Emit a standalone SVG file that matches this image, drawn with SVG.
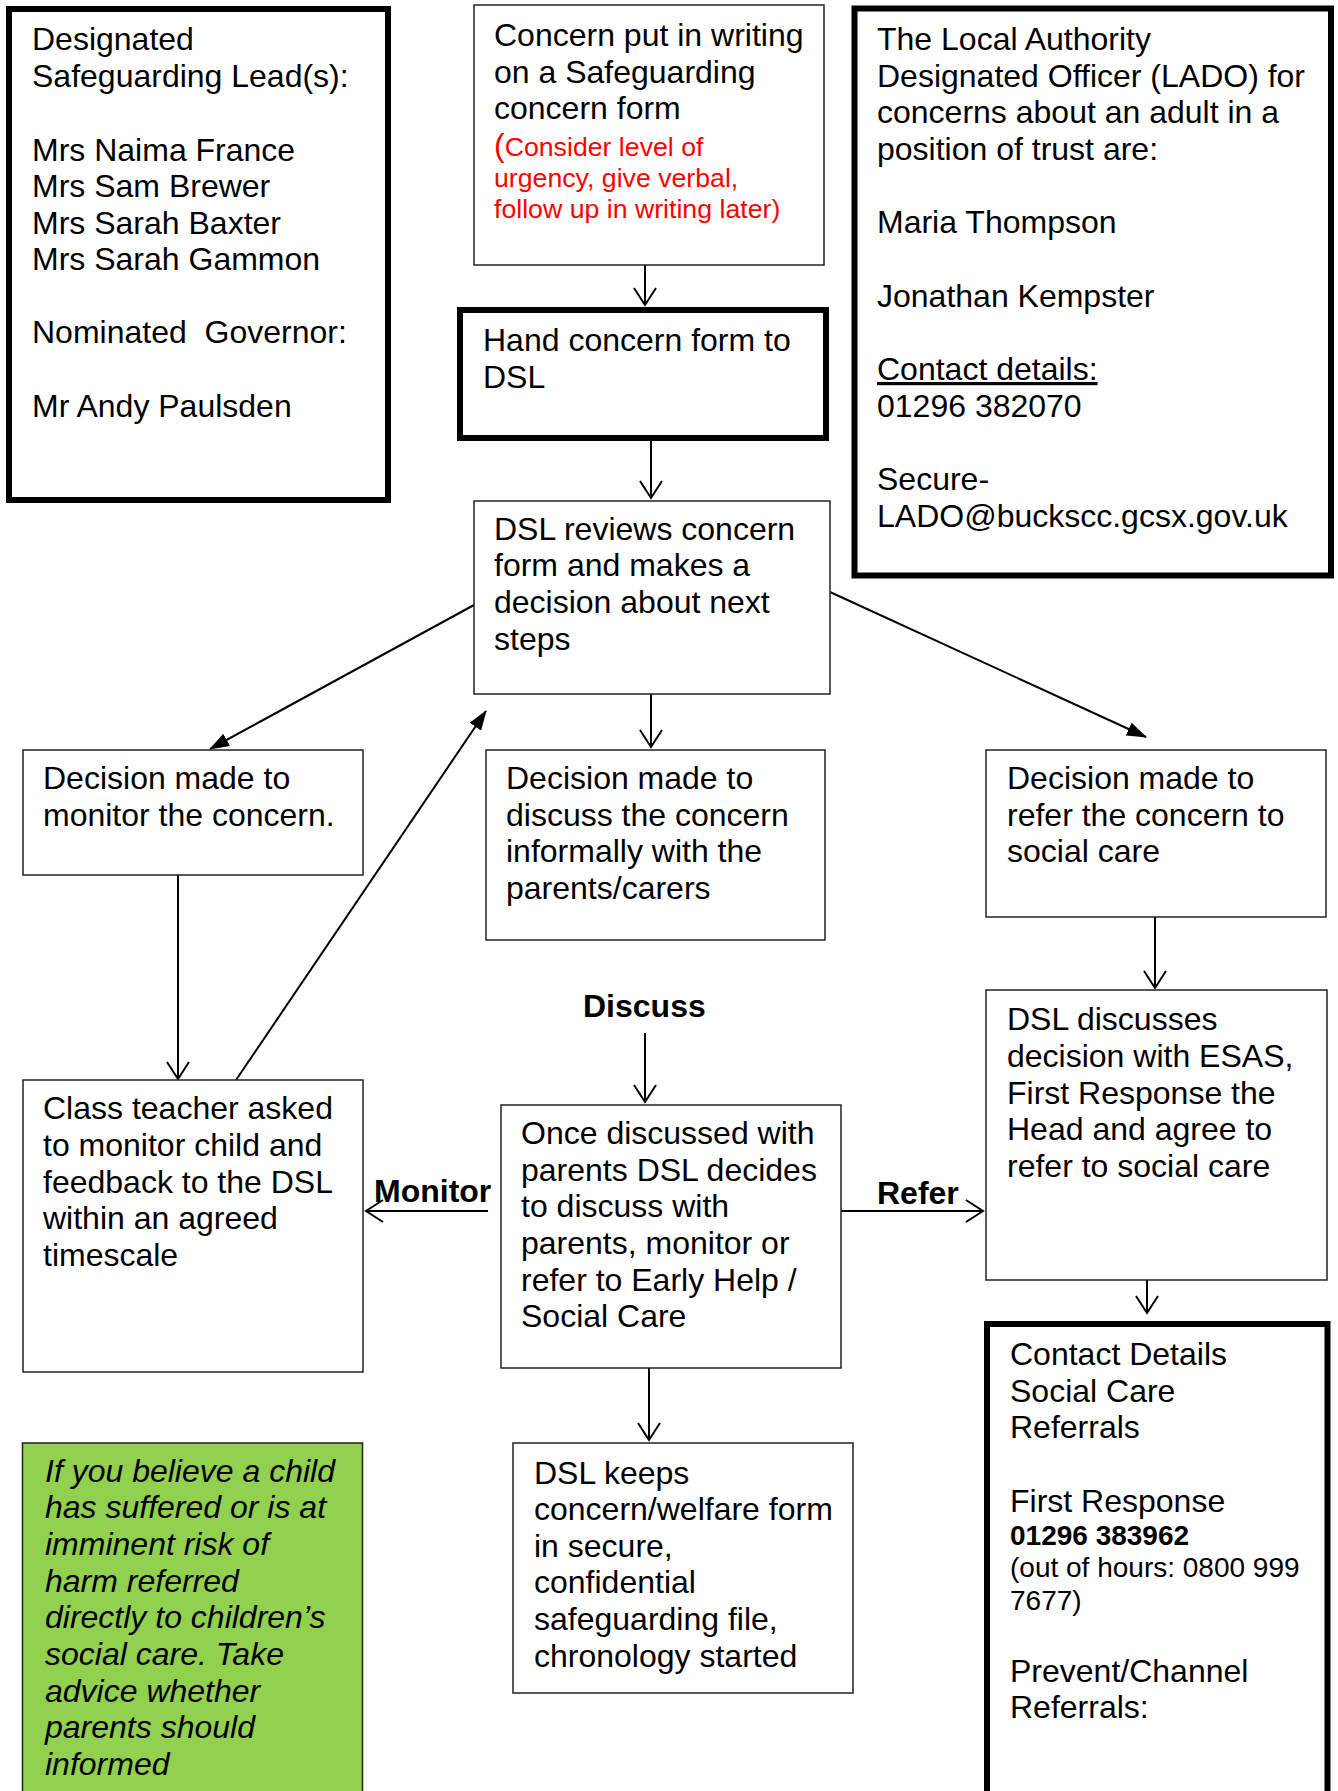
<svg xmlns="http://www.w3.org/2000/svg" width="1338" height="1791" viewBox="0 0 1338 1791">
<style>
text{font-family:"Liberation Sans",Arial,sans-serif;font-size:32px;fill:#000}
.box{fill:#fff;stroke:#222;stroke-width:1.5}
.thick{fill:#fff;stroke:#000;stroke-width:6}
.green{fill:#92D050;stroke:#222;stroke-width:1.5}
.red{fill:#FF0000;font-size:26.7px}
.sm{font-size:28px}
.b{font-weight:bold}
.i{font-style:italic}
.con{stroke:#000;stroke-width:2;fill:none}
.open{marker-end:url(#openArrow)}
.solid{marker-end:url(#solidArrow)}
</style>
<defs>
<marker id="openArrow" markerUnits="userSpaceOnUse" viewBox="0 0 20 24" refX="18" refY="12" markerWidth="20" markerHeight="24" orient="auto">
<path d="M1,1 L18,12 L1,23" fill="none" stroke="#000" stroke-width="2"/>
</marker>
<marker id="solidArrow" markerUnits="userSpaceOnUse" viewBox="0 0 20 14" refX="19" refY="7" markerWidth="20" markerHeight="14" orient="auto">
<path d="M0,0 L20,7 L0,14 z" fill="#000"/>
</marker>
</defs>
<rect width="1338" height="1791" fill="#fff"/>

<g id="connectors">
<line class="con open" x1="645" y1="265" x2="645" y2="305"/>
<line class="con open" x1="651" y1="441" x2="651" y2="498"/>
<line class="con solid" x1="474" y1="605" x2="210" y2="749"/>
<line class="con open" x1="651" y1="694" x2="651" y2="747"/>
<line class="con solid" x1="830" y1="592" x2="1146" y2="737"/>
<line class="con open" x1="178" y1="875" x2="178" y2="1079"/>
<line class="con solid" x1="236" y1="1080" x2="486" y2="711"/>
<line class="con open" x1="1155" y1="917" x2="1155" y2="988"/>
<line class="con open" x1="645" y1="1033" x2="645" y2="1102"/>
<line class="con open" x1="488" y1="1211" x2="366" y2="1211"/>
<line class="con open" x1="841" y1="1211" x2="983" y2="1211"/>
<line class="con open" x1="649" y1="1368" x2="649" y2="1440"/>
<line class="con open" x1="1147" y1="1280" x2="1147" y2="1313"/>
<text class="b" x="374" y="1202">Monitor</text>
<text class="b" x="877" y="1204">Refer</text>
<text class="b" x="583" y="1017">Discuss</text>
</g>

<g id="dsl-leads">
<rect class="thick" x="9" y="9" width="379" height="491"/>
<text x="32" y="50">Designated</text>
<text x="32" y="87">Safeguarding Lead(s):</text>
<text x="32" y="161">Mrs Naima France</text>
<text x="32" y="197">Mrs Sam Brewer</text>
<text x="32" y="234">Mrs Sarah Baxter</text>
<text x="32" y="270">Mrs Sarah Gammon</text>
<text x="32" y="343" xml:space="preserve">Nominated  Governor:</text>
<text x="32" y="417">Mr Andy Paulsden</text>
</g>

<g id="concern-in-writing">
<rect class="box" x="474" y="5" width="350" height="260"/>
<text x="494" y="46">Concern put in writing</text>
<text x="494" y="83">on a Safeguarding</text>
<text x="494" y="119">concern form</text>
<text class="red" x="494" y="156"><tspan font-size="32">(</tspan>Consider level of</text>
<text class="red" x="494" y="187">urgency, give verbal,</text>
<text class="red" x="494" y="218">follow up in writing later)</text>
</g>

<g id="lado">
<rect class="thick" x="854.5" y="8.5" width="476.5" height="567"/>
<text x="877" y="50">The Local Authority</text>
<text x="877" y="87">Designated Officer (LADO) for</text>
<text x="877" y="123">concerns about an adult in a</text>
<text x="877" y="160">position of trust are:</text>
<text x="877" y="233">Maria Thompson</text>
<text x="877" y="307">Jonathan Kempster</text>
<text x="877" y="380" text-decoration="underline">Contact details:</text>
<text x="877" y="417">01296 382070</text>
<text x="877" y="490">Secure-</text>
<text x="877" y="527">LADO@buckscc.gcsx.gov.uk</text>
</g>

<g id="hand-to-dsl">
<rect class="thick" x="460" y="310" width="366" height="128"/>
<text x="483" y="351">Hand concern form to</text>
<text x="483" y="388">DSL</text>
</g>

<g id="dsl-reviews">
<rect class="box" x="474" y="501" width="356" height="193"/>
<text x="494" y="540">DSL reviews concern</text>
<text x="494" y="576">form and makes a</text>
<text x="494" y="613">decision about next</text>
<text x="494" y="650">steps</text>
</g>

<g id="decision-monitor">
<rect class="box" x="23" y="750" width="340" height="125"/>
<text x="43" y="789">Decision made to</text>
<text x="43" y="826">monitor the concern.</text>
</g>

<g id="decision-discuss">
<rect class="box" x="486" y="750" width="339" height="190"/>
<text x="506" y="789">Decision made to</text>
<text x="506" y="826">discuss the concern</text>
<text x="506" y="862">informally with the</text>
<text x="506" y="899">parents/carers</text>
</g>

<g id="decision-refer">
<rect class="box" x="986" y="750" width="340" height="167"/>
<text x="1007" y="789">Decision made to</text>
<text x="1007" y="826">refer the concern to</text>
<text x="1007" y="862">social care</text>
</g>

<g id="class-teacher">
<rect class="box" x="23" y="1080" width="340" height="292"/>
<text x="43" y="1119">Class teacher asked</text>
<text x="43" y="1156">to monitor child and</text>
<text x="43" y="1193">feedback to the DSL</text>
<text x="43" y="1229">within an agreed</text>
<text x="43" y="1266">timescale</text>
</g>

<g id="once-discussed">
<rect class="box" x="501" y="1105" width="340" height="263"/>
<text x="521" y="1144">Once discussed with</text>
<text x="521" y="1181">parents DSL decides</text>
<text x="521" y="1217">to discuss with</text>
<text x="521" y="1254">parents, monitor or</text>
<text x="521" y="1291">refer to Early Help /</text>
<text x="521" y="1327">Social Care</text>
</g>

<g id="dsl-discusses">
<rect class="box" x="986" y="990" width="341" height="290"/>
<text x="1007" y="1030">DSL discusses</text>
<text x="1007" y="1067">decision with ESAS,</text>
<text x="1007" y="1104">First Response the</text>
<text x="1007" y="1140">Head and agree to</text>
<text x="1007" y="1177">refer to social care</text>
</g>

<g id="dsl-keeps">
<rect class="box" x="513" y="1443" width="340" height="250"/>
<text x="534" y="1484">DSL keeps</text>
<text x="534" y="1520">concern/welfare form</text>
<text x="534" y="1557">in secure,</text>
<text x="534" y="1593">confidential</text>
<text x="534" y="1630">safeguarding file,</text>
<text x="534" y="1667">chronology started</text>
</g>

<g id="contact-details">
<rect class="thick" x="987" y="1324" width="340.5" height="500"/>
<text x="1010" y="1365">Contact Details</text>
<text x="1010" y="1402">Social Care</text>
<text x="1010" y="1438">Referrals</text>
<text x="1010" y="1512">First Response</text>
<text class="sm b" x="1010" y="1545">01296 383962</text>
<text class="sm" x="1010" y="1577">(out of hours: 0800 999</text>
<text class="sm" x="1010" y="1610">7677)</text>
<text x="1010" y="1682">Prevent/Channel</text>
<text x="1010" y="1718">Referrals:</text>
</g>

<g id="urgent-note">
<rect class="green" x="22.5" y="1443" width="340" height="400"/>
<text class="i" x="45" y="1482">If you believe a child</text>
<text class="i" x="45" y="1518">has suffered or is at</text>
<text class="i" x="45" y="1555">imminent risk of</text>
<text class="i" x="45" y="1592">harm referred</text>
<text class="i" x="45" y="1628">directly to children’s</text>
<text class="i" x="45" y="1665">social care. Take</text>
<text class="i" x="45" y="1702">advice whether</text>
<text class="i" x="45" y="1738">parents should</text>
<text class="i" x="45" y="1775">informed</text>
</g>
</svg>
